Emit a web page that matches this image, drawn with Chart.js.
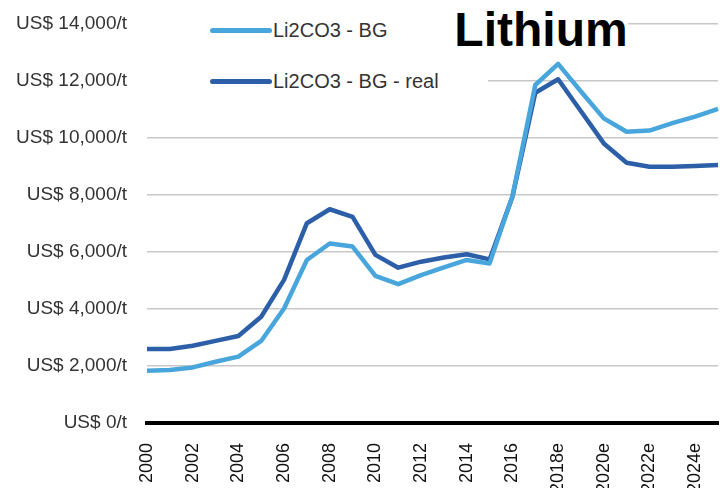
<!DOCTYPE html>
<html>
<head>
<meta charset="utf-8">
<script src="https://cdn.jsdelivr.net/npm/chart.js@4"></script>
<style>
  body { margin: 0; background: #fff; }
  #wrap { position: relative; width: 720px; height: 488px; }
  .box { position: absolute; background: #fff; font-family: "Liberation Sans", Arial, sans-serif; }
  .item { position: absolute; left: 70px; height: 24px; display: flex; align-items: center; font-size: 20px; color: #333; }
  .swatch { width: 62px; height: 5px; border-radius: 3px; margin-right: 1px; }
</style>
</head>
<body>
<div id="wrap">
  <canvas id="grafico-linha"></canvas>
  <div class="box" style="left:140px; top:0; width:348px; height:104px;">
    <div class="item" style="top:18px;"><div class="swatch" style="background:#48a6dd"></div>Li2CO3 - BG</div>
    <div class="item" style="top:69px;"><div class="swatch" style="background:#2c5fa8"></div>Li2CO3 - BG - real</div>
  </div>
  <div class="box" style="left:454px; top:0; width:174px; height:56px; font-weight:bold; font-size:48px; color:#000; text-align:center; line-height:60px;">Lithium</div>
</div>
<script>
const anos = ["2000", "2001", "2002", "2003", "2004", "2005", "2006", "2007", "2008", "2009",
  "2010", "2011", "2012", "2013", "2014", "2015", "2016", "2017", "2018e", "2019e",
  "2020e", "2021e", "2022e", "2023e", "2024e", "2025e"];
const precoBG = [1830, 1860, 1950, 2150, 2330, 2880, 4020, 5720, 6300, 6190,
  5160, 4870, 5190, 5460, 5720, 5600, 7960, 11860, 12600, 11630,
  10690, 10220, 10260, 10520, 10750, 11020];
const precoReal = [2600, 2600, 2710, 2880, 3050, 3730, 5020, 7010, 7500, 7230,
  5900, 5450, 5660, 5810, 5920, 5740, 7940, 11590, 12060, 10940,
  9810, 9130, 8990, 8990, 9020, 9050];
const yTicks = [0, 2000, 4000, 6000, 8000, 10000, 12000, 14000];

Chart.defaults.font.family = "'Liberation Sans', Arial, sans-serif";

const ctx = document.getElementById("grafico-linha").getContext("2d");
new Chart(ctx, {
  type: "line",
  data: {
    labels: anos,
    datasets: [
      {
        label: "Li2CO3 - BG",
        data: precoBG,
        borderColor: "#48a6dd",
        borderWidth: 4.5,
        pointRadius: 0,
        tension: 0,
        borderJoinStyle: "round",
      },
      {
        label: "Li2CO3 - BG - real",
        data: precoReal,
        borderColor: "#2c5fa8",
        borderWidth: 4.5,
        pointRadius: 0,
        tension: 0,
        borderJoinStyle: "round",
      },
    ],
  },
  options: {
    responsive: true,
    maintainAspectRatio: false,
    animation: false,
    layout: { padding: { top: 24, right: 2, left: 0, bottom: 0 } },
    scales: {
      x: {
        offset: false,
        grid: { display: false },
        border: { display: true, color: "#000", width: 4 },
        ticks: {
          autoSkip: false,
          maxRotation: 90,
          minRotation: 90,
          padding: 12,
          color: "#111",
          font: { size: 18 },
          callback: (v, i) => (i % 2 === 0 ? anos[i] : ""),
        },
        afterFit: (scale) => {
          scale.height = 65;
          scale.paddingLeft = 0;
          scale.paddingRight = 0;
        },
      },
      y: {
        min: 0,
        max: 14000,
        afterBuildTicks: (scale) => { scale.ticks = yTicks.map((v) => ({ value: v })); },
        grid: {
          drawTicks: false,
          color: (c) => (c.tick && c.tick.value === 0 ? "rgba(0,0,0,0)" : "#c8c8c8"),
          lineWidth: 1.5,
        },
        border: { display: false },
        ticks: {
          padding: 20,
          color: "#333",
          font: { size: 19 },
          callback: (v) => "US$ " + v.toLocaleString("en-US") + "/t",
        },
        afterFit: (scale) => {
          scale.width = 147;
          scale.paddingTop = 0;
          scale.paddingBottom = 0;
        },
      },
    },
    plugins: {
      legend: { display: false },
      tooltip: { enabled: false },
    },
  },
});
</script>
</body>
</html>
